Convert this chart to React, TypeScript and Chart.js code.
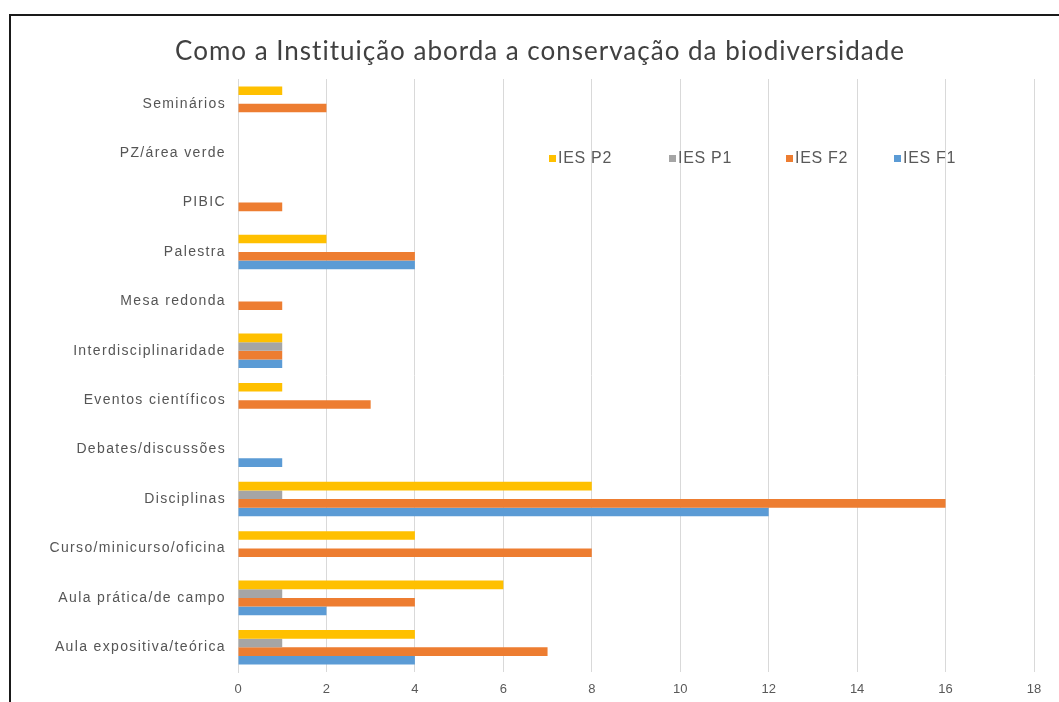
import React, { useEffect, useRef } from "react";
import { Chart, registerables } from "chart.js";

Chart.register(...registerables);

const TITLE = "Como a Instituição aborda a conservação da biodiversidade";

const categories = [
  "Seminários",
  "PZ/área verde",
  "PIBIC",
  "Palestra",
  "Mesa redonda",
  "Interdisciplinaridade",
  "Eventos científicos",
  "Debates/discussões",
  "Disciplinas",
  "Curso/minicurso/oficina",
  "Aula prática/de campo",
  "Aula expositiva/teórica",
];

const iesP2 = [1, 0, 0, 2, 0, 1, 1, 0, 8, 4, 6, 4];
const iesP1 = [0, 0, 0, 0, 0, 1, 0, 0, 1, 0, 1, 1];
const iesF2 = [2, 0, 1, 4, 1, 1, 3, 0, 16, 8, 4, 7];
const iesF1 = [0, 0, 0, 4, 0, 1, 0, 1, 12, 0, 2, 4];

const seriesNames = ["IES P2", "IES P1", "IES F2", "IES F1"];
const seriesColors = ["#FFC000", "#A5A5A5", "#ED7D31", "#5B9BD5"];
const xTicks = [0, 2, 4, 6, 8, 10, 12, 14, 16, 18];

const spacingPlugin = {
  id: "spacing",
  beforeLayout(chart: any) {
    chart.ctx.letterSpacing = "1.35px";
  },
  beforeDraw(chart: any) {
    const ctx = chart.ctx;
    ctx.letterSpacing = "1.35px";
    const xs = chart.scales.x;
    if (xs && !xs.__noSpacing) {
      const orig = xs.drawLabels.bind(xs);
      xs.drawLabels = (area: any) => {
        const prev = ctx.letterSpacing;
        ctx.letterSpacing = "0px";
        orig(area);
        ctx.letterSpacing = prev;
      };
      xs.__noSpacing = true;
    }
  },
};

export default function App() {
  const ref = useRef<HTMLCanvasElement | null>(null);

  useEffect(() => {
    if (!ref.current) return;
    const values = [iesP2, iesP1, iesF2, iesF1];
    const chart = new Chart(ref.current, {
      type: "bar",
      data: {
        labels: categories,
        datasets: values.map((v, i) => ({
          label: seriesNames[i],
          data: v,
          backgroundColor: seriesColors[i],
          borderWidth: 0,
          categoryPercentage: 0.7,
          barPercentage: 1,
        })),
      },
      options: {
        indexAxis: "y",
        animation: false,
        responsive: false,
        maintainAspectRatio: false,
        layout: { padding: { left: 0, right: 25, top: 79, bottom: 0 } },
        plugins: {
          legend: { display: false },
          title: { display: false },
          tooltip: { enabled: false },
        },
        scales: {
          x: {
            min: 0,
            max: 18,
            afterFit: (s: any) => {
              s.height = 30;
            },
            afterBuildTicks: (s: any) => {
              s.ticks = xTicks.map((v) => ({ value: v }));
            },
            ticks: {
              padding: 10,
              color: "#595959",
              font: { family: "Liberation Sans", size: 13 },
            },
            grid: { color: "#D9D9D9", drawTicks: false, lineWidth: 1 },
            border: { display: false },
          },
          y: {
            afterFit: (s: any) => {
              s.width = 238;
            },
            ticks: {
              padding: 12,
              color: "#555555",
              font: { family: "Liberation Sans", size: 14 },
            },
            grid: { display: false, drawTicks: false },
            border: { display: true, color: "#D9D9D9" },
          },
        },
      },
      plugins: [spacingPlugin],
    });
    return () => chart.destroy();
  }, []);

  const legendX = [549, 669, 786, 894];

  return (
    <div
      style={{
        position: "fixed",
        left: 0,
        top: 0,
        width: 1059,
        height: 702,
        overflow: "hidden",
        background: "#fff",
      }}
    >
      <div
        style={{
          position: "absolute",
          left: 9,
          top: 14,
          width: 1100,
          height: 760,
          border: "2px solid #1a1a1a",
          boxSizing: "border-box",
        }}
      />
      <canvas
        ref={ref}
        width={1059}
        height={702}
        style={{ position: "absolute", left: 0, top: 0 }}
      />
      <div
        style={{
          position: "absolute",
          left: 0,
          width: 1080,
          top: 35,
          textAlign: "center",
          fontFamily: "Lato",
          fontSize: 26,
          letterSpacing: "1px",
          color: "#404040",
          lineHeight: "30px",
          whiteSpace: "nowrap",
        }}
      >
        {TITLE}
      </div>
      {seriesNames.map((n, i) => (
        <div
          key={n}
          style={{
            position: "absolute",
            left: legendX[i],
            top: 149,
            display: "flex",
            alignItems: "center",
            fontFamily: "Liberation Sans",
            fontSize: 16,
            letterSpacing: "0.7px",
            color: "#595959",
            whiteSpace: "nowrap",
            lineHeight: "18px",
          }}
        >
          <span
            style={{
              display: "inline-block",
              width: 7,
              height: 7,
              background: seriesColors[i],
              marginRight: 2,
            }}
          />
          {n}
        </div>
      ))}
    </div>
  );
}
